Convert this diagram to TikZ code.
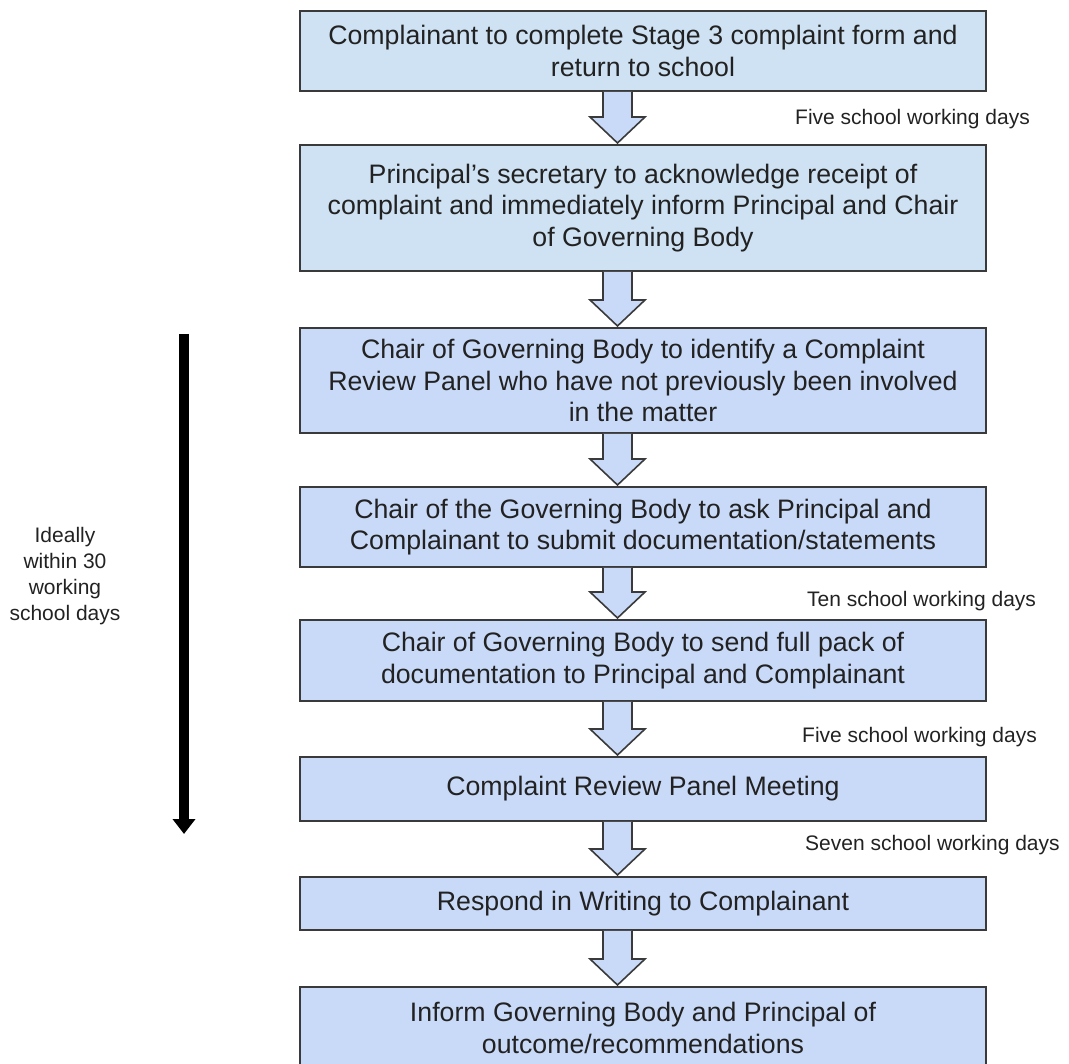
\documentclass[tikz,border=0pt]{standalone}
\usepackage{fontspec}
\setmainfont{Liberation Sans}
\usetikzlibrary{arrows.meta,positioning,calc}
\definecolor{stepblue}{HTML}{CFE2F3}
\definecolor{steplilac}{HTML}{C9DAF8}
\definecolor{edgegray}{HTML}{3A3A3A}
\definecolor{textgray}{HTML}{222222}

\begin{document}
\begin{tikzpicture}[
    x=1pt, y=-1pt,
    stepbox/.style={rectangle, draw=edgegray, line width=1.6pt, fill=steplilac, minimum width=686pt, align=center, outer sep=0pt, inner sep=4pt, text=textgray, font=\fontsize{26.7}{31.5}\selectfont},
    firstbox/.style={stepbox, fill=stepblue},
    blockarrow/.style={draw=edgegray, line width=1.6pt, fill=steplilac, line join=miter},
    daynote/.style={anchor=west, inner sep=0pt, text=textgray, font=\fontsize{21}{25}\selectfont},
    spannote/.style={align=center, inner sep=0pt, text=textgray, font=\fontsize{21}{26}\selectfont},
    spanarrow/.style={-{Triangle[width=22pt,length=15pt]}, line width=10pt, black},
]
    \useasboundingbox (0,0) rectangle (1069,1064);

    % Stage 3: form and acknowledgement
    \node[firstbox, minimum height=80pt] (b1) at (643,51) {Complainant to complete Stage 3 complaint form and\\return to school};
    \node[firstbox, minimum height=126pt, below=54pt of b1] (b2) {Principal’s secretary to acknowledge receipt of\\complaint and immediately inform Principal and Chair\\of Governing Body};

    % Panel set-up
    \node[stepbox, minimum height=105pt, below=57pt of b2] (b3) {Chair of Governing Body to identify a Complaint\\Review Panel who have not previously been involved\\in the matter};
    \node[stepbox, minimum height=80pt, below=54pt of b3] (b4) {Chair of the Governing Body to ask Principal and\\Complainant to submit documentation/statements};
    \node[stepbox, minimum height=81pt, below=53pt of b4] (b5) {Chair of Governing Body to send full pack of\\documentation to Principal and Complainant};

    % Meeting and outcome
    \node[stepbox, minimum height=64pt, below=56pt of b5] (b6) {Complaint Review Panel Meeting};
    \node[stepbox, minimum height=53pt, below=56pt of b6] (b7) {Respond in Writing to Complainant};
    \node[stepbox, minimum height=82pt, below=57pt of b7] (b8) {Inform Governing Body and Principal of\\outcome/recommendations};

    % Block arrows between the steps
    \foreach \a/\b in {b1/b2, b2/b3, b3/b4, b4/b5, b5/b6, b6/b7, b7/b8}
        \draw[blockarrow] let \p1=($(\a.south)+(-25.5,0.8)$), \p2=($(\b.north)+(-25.5,-2)$) in
            (\x1-14.5pt,\y1) -- (\x1-14.5pt,\y2+26pt) -- (\x1-27.5pt,\y2+26pt) -- (\x1,\y2)
            -- (\x1+27.5pt,\y2+26pt) -- (\x1+14.5pt,\y2+26pt) -- (\x1+14.5pt,\y1);

    % Time limits
    \node[daynote] (d1) at ($(b1.south)!0.5!(b2.north)+(152,1)$) {Five school working days};
    \node[daynote] (d2) at ($(b4.south)!0.5!(b5.north)+(164,7.5)$) {Ten school working days};
    \node[daynote] (d3) at ($(b5.south)!0.5!(b6.north)+(159,8)$) {Five school working days};
    \node[daynote] (d4) at ($(b6.south)!0.5!(b7.north)+(162,-4)$) {Seven school working days};

    % Overall span
    \coordinate (spantop) at (184,334);
    \coordinate (spanend) at (184,834);
    \draw[spanarrow] (spantop) -- (spanend);
    \node[spannote] (ideal) at (65,576) {Ideally\\within 30\\working\\school days};
\end{tikzpicture}
\end{document}
